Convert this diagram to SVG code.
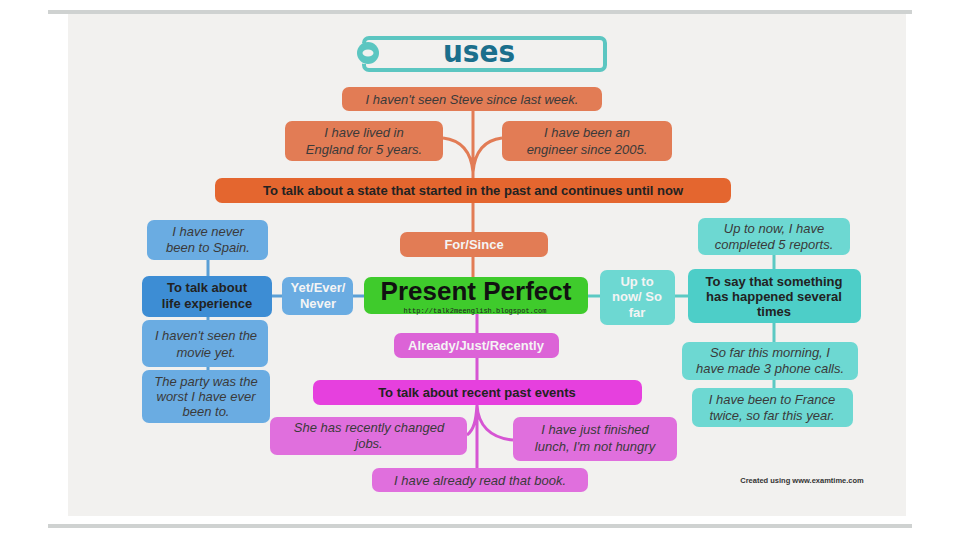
<svg xmlns="http://www.w3.org/2000/svg" width="960" height="540" viewBox="0 0 960 540">
<style>
.ex{font-family:"Liberation Sans",Arial,sans-serif;font-style:italic;font-size:13px;fill:#3a3a3a;text-anchor:middle}
.lb{font-family:"Liberation Sans",Arial,sans-serif;font-weight:bold;font-size:13px;fill:#222;text-anchor:middle}
.wl{font-family:"Liberation Sans",Arial,sans-serif;font-weight:bold;font-size:13px;fill:#f4f4f4;text-anchor:middle}
.or{fill:#e27c55}
.bl{fill:#6aace2}
.tl{fill:#6dd8d2}
.mg{fill:#e06fdd}
.cn{fill:none;stroke-width:3}
</style>
<rect width="960" height="540" fill="#ffffff"/>
<rect x="48" y="10" width="864" height="4" fill="#cfd2d1"/>
<rect x="68" y="14" width="838" height="502" fill="#f2f1ef"/>
<rect x="48" y="524" width="864" height="4" fill="#cfd2d1"/>

<g id="connectors">
<path class="cn" stroke="#e27c55" d="M473,111 V178 M443,138 C460,140 471,150 473,172 M502,138 C485,140 475,150 473,172 M473,203 V232 M473,257 V277"/>
<path class="cn" stroke="#d655d3" d="M477,314 V333 M477,358 V380 M477,405 V468 M467,435 C474,430 476,420 477,405 M477,405 C478,425 490,438 513,440"/>
<path class="cn" stroke="#5a9fd6" d="M353,296 H365 M272,296 H282 M208,260 V276 M208,317 V320 M208,367 V370"/>
<path class="cn" stroke="#5cc9c3" d="M588,296 H600 M675,296 H688 M774,255 V269 M774,323 V342 M774,380 V388"/>
</g>

<g id="title">
<rect x="364" y="38" width="241" height="32" rx="5" fill="none" stroke="#5cc6c1" stroke-width="4"/>
<rect x="354" y="43" width="26" height="21" rx="10" fill="#f2f1ef"/>
<circle cx="368" cy="53" r="11" fill="#5cc6c1"/>
<ellipse cx="368" cy="53" rx="5.5" ry="3.5" fill="#f2f1ef"/>
<text x="479" y="62" font-family="DejaVu Sans,sans-serif" font-weight="bold" font-size="31" fill="#1b6f8c" text-anchor="middle" textLength="72" lengthAdjust="spacingAndGlyphs">uses</text>
</g>

<g id="steve"><rect class="or" x="342" y="87" width="260" height="24" rx="7"/><text class="ex" x="472" y="104">I haven't seen Steve since last week.</text></g>
<g id="lived"><rect class="or" x="285" y="121" width="158" height="40" rx="7"/><text class="ex" x="364" y="137">I have lived in</text><text class="ex" x="364" y="154">England for 5 years.</text></g>
<g id="engineer"><rect class="or" x="502" y="121" width="170" height="40" rx="7"/><text class="ex" x="587" y="137">I have been an</text><text class="ex" x="587" y="154">engineer since 2005.</text></g>
<g id="state"><rect x="215" y="178" width="516" height="25" rx="7" fill="#e4662f"/><text class="lb" x="473" y="195">To talk about a state that started in the past and continues until now</text></g>
<g id="forsince"><rect class="or" x="400" y="232" width="148" height="25" rx="7"/><text class="wl" x="474" y="249">For/Since</text></g>

<g id="present"><rect x="364" y="277" width="224" height="37" rx="7" fill="#3fcb2c"/>
<text x="476" y="300" font-family="Liberation Sans,Arial,sans-serif" font-weight="bold" font-size="26" fill="#111" text-anchor="middle">Present Perfect</text>
<text x="475" y="313" font-family="Liberation Mono,monospace" font-size="7" fill="#222" text-anchor="middle">http://talk2meenglish.blogspot.com</text></g>

<g id="already"><rect x="394" y="333" width="165" height="25" rx="7" fill="#dc63d7"/><text class="wl" x="476" y="350">Already/Just/Recently</text></g>
<g id="recent"><rect x="313" y="380" width="329" height="25" rx="7" fill="#e640de"/><text class="lb" x="477" y="397">To talk about recent past events</text></g>
<g id="changed"><rect class="mg" x="270" y="417" width="197" height="38" rx="7"/><text class="ex" x="369" y="432">She has recently changed</text><text class="ex" x="369" y="448">jobs.</text></g>
<g id="lunch"><rect class="mg" x="513" y="417" width="164" height="44" rx="7"/><text class="ex" x="595" y="434">I have just finished</text><text class="ex" x="595" y="451">lunch, I'm not hungry</text></g>
<g id="book"><rect class="mg" x="372" y="468" width="216" height="24" rx="7"/><text class="ex" x="480" y="485">I have already read that book.</text></g>

<g id="yet"><rect class="bl" x="282" y="277" width="71" height="38" rx="7"/><text class="wl" x="318" y="292">Yet/Ever/</text><text class="wl" x="318" y="308">Never</text></g>
<g id="life"><rect x="142" y="276" width="130" height="41" rx="7" fill="#3d8dd4"/><text class="lb" x="207" y="292">To talk about</text><text class="lb" x="207" y="308">life experience</text></g>
<g id="spain"><rect class="bl" x="147" y="220" width="121" height="40" rx="7"/><text class="ex" x="208" y="236">I have never</text><text class="ex" x="208" y="252">been to Spain.</text></g>
<g id="movie"><rect class="bl" x="142" y="320" width="126" height="47" rx="7"/><text class="ex" x="206" y="340">I haven't seen the</text><text class="ex" x="206" y="357">movie yet.</text></g>
<g id="party"><rect class="bl" x="142" y="370" width="128" height="53" rx="7"/><text class="ex" x="206" y="386">The party was the</text><text class="ex" x="206" y="401">worst I have ever</text><text class="ex" x="206" y="416">been to.</text></g>

<g id="uptonow"><rect class="tl" x="600" y="270" width="75" height="55" rx="7"/><text class="wl" x="637" y="286">Up to</text><text class="wl" x="637" y="301">now/ So</text><text class="wl" x="637" y="317">far</text></g>
<g id="several"><rect x="688" y="269" width="173" height="54" rx="7" fill="#4dcec8"/><text class="lb" x="774" y="286">To say that something</text><text class="lb" x="774" y="301">has happened several</text><text class="lb" x="774" y="316">times</text></g>
<g id="reports"><rect class="tl" x="698" y="218" width="152" height="37" rx="7"/><text class="ex" x="774" y="233">Up to now, I have</text><text class="ex" x="774" y="249">completed 5 reports.</text></g>
<g id="calls"><rect class="tl" x="682" y="342" width="176" height="38" rx="7"/><text class="ex" x="770" y="357">So far this morning, I</text><text class="ex" x="770" y="373">have made 3 phone calls.</text></g>
<g id="france"><rect class="tl" x="692" y="388" width="161" height="39" rx="7"/><text class="ex" x="772" y="404">I have been to France</text><text class="ex" x="772" y="420">twice, so far this year.</text></g>

<text x="802" y="483" font-family="Liberation Sans,Arial,sans-serif" font-weight="bold" font-size="7.5" fill="#333" text-anchor="middle">Created using www.examtime.com</text>
</svg>
